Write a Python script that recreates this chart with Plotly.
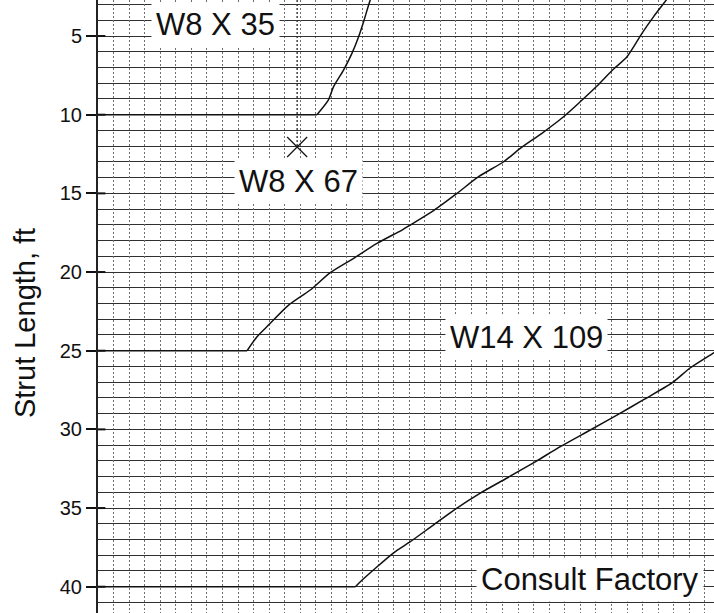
import plotly.graph_objects as go

FONT = "Liberation Sans, Arial, Helvetica, sans-serif"
INK = "#111111"

# Strut length axis (ft, increasing downward)
length_ticks = [5, 10, 15, 20, 25, 30, 35, 40]
length_range = [41.67, 2.71]          # bottom, top
x_range = [0.0, 39.59]                # horizontal grid units

# Boundary: W8 X 35 / W8 X 67
b1_x = [0.0, 14.07, 14.80, 15.14, 15.78, 16.32, 16.75, 17.07, 17.50, 17.70]
b1_y = [10.0, 10.0, 9.07, 8.22, 7.16, 6.10, 5.04, 4.09, 2.71, 2.30]

# Boundary: W8 X 67 / W14 X 109
b2_x = [0.0, 9.58, 10.22, 10.96, 12.25, 13.64, 14.93, 16.43, 17.93, 19.54,
        20.07, 21.61, 23.07, 24.46, 26.07, 27.14, 28.53, 29.92, 30.99, 32.07,
        33.07, 34.00, 34.96, 35.71, 36.52, 36.80]
b2_y = [25.0, 25.0, 24.11, 23.37, 22.10, 21.14, 20.04, 19.13, 18.18, 17.33,
        17.01, 16.06, 15.00, 13.94, 12.99, 12.14, 11.18, 10.13, 9.18, 8.18,
        7.16, 6.32, 4.83, 3.77, 2.71, 2.30]

# Boundary: W14 X 109 / Consult Factory
b3_x = [0.0, 16.54, 16.86, 18.98, 20.07, 21.55, 23.07, 24.57, 26.29, 28.10,
        29.71, 31.64, 33.35, 35.04, 36.89, 38.05, 39.54, 40.00]
b3_y = [40.0, 40.0, 39.68, 37.86, 37.14, 36.08, 35.00, 34.05, 33.09, 32.06,
        31.10, 30.04, 29.09, 28.13, 27.05, 26.10, 25.15, 24.83]

# Example selection point
mark_x, mark_y = 12.8, 12.05

# Region labels
region_names = ["W8 X 35", "W8 X 67", "W14 X 109", "Consult Factory"]
region_x = [7.58, 12.88, 27.51, 31.65]
region_y = [4.24, 14.22, 24.13, 39.57]

fig = go.Figure()

for xs, ys in [(b1_x, b1_y), (b2_x, b2_y), (b3_x, b3_y)]:
    # flat run along the minimum length, then the smooth boundary curve
    fig.add_trace(go.Scatter(x=xs[:2], y=ys[:2], mode="lines",
                             line=dict(color=INK, width=1.6),
                             hoverinfo="skip", showlegend=False))
    fig.add_trace(go.Scatter(x=xs[1:], y=ys[1:], mode="lines",
                             line=dict(color=INK, width=1.5, shape="spline",
                                       smoothing=0.7),
                             hoverinfo="skip", showlegend=False))

# dotted lead line down to the selection point
fig.add_trace(go.Scatter(x=[mark_x, mark_x], y=[length_range[1], mark_y],
                         mode="lines",
                         line=dict(color="#333333", width=1.4, dash="2px,2px"),
                         hoverinfo="skip", showlegend=False))
fig.add_trace(go.Scatter(x=[mark_x], y=[mark_y], mode="markers",
                         marker=dict(symbol="x-thin", size=20,
                                     line=dict(width=1.2, color=INK)),
                         hoverinfo="skip", showlegend=False))

# short inside tick stubs at each labelled length
for t in length_ticks:
    fig.add_shape(type="line", xref="x domain", yref="y",
                  x0=0, x1=0.012, y0=t, y1=t,
                  line=dict(color=INK, width=2))

for name, x, y in zip(region_names, region_x, region_y):
    fig.add_annotation(x=x, y=y, xref="x", yref="y", text=name,
                       showarrow=False, xanchor="center", yanchor="middle",
                       font=dict(family=FONT, size=31, color=INK),
                       bgcolor="white", borderpad=4)

fig.add_annotation(x=-0.1185, y=0.473, xref="paper", yref="paper",
                   text="Strut Length, ft", textangle=-90, showarrow=False,
                   xanchor="center", yanchor="middle",
                   font=dict(family=FONT, size=29, color=INK))

fig.update_xaxes(range=x_range, showticklabels=False, ticks="",
                 tick0=0, dtick=1, showgrid=True, gridcolor="#6e6e6e",
                 gridwidth=1, griddash="2px,2px", zeroline=False,
                 showline=False)
fig.update_yaxes(range=length_range, tickmode="array", tickvals=length_ticks,
                 ticks="outside", ticklen=10, tickwidth=2, tickcolor=INK,
                 showline=True, linecolor="#222222", linewidth=2,
                 showgrid=True, gridcolor="#303030", gridwidth=1.25,
                 minor=dict(tick0=0, dtick=1, showgrid=True,
                            gridcolor="#303030", gridwidth=1.25),
                 tickfont=dict(family=FONT, size=20, color=INK),
                 zeroline=False)

fig.update_layout(width=714, height=613, autosize=False,
                  margin=dict(l=98, r=0, t=0, b=0),
                  paper_bgcolor="white", plot_bgcolor="white",
                  font=dict(family=FONT, color=INK), showlegend=False)

fig.write_html("out.html")
